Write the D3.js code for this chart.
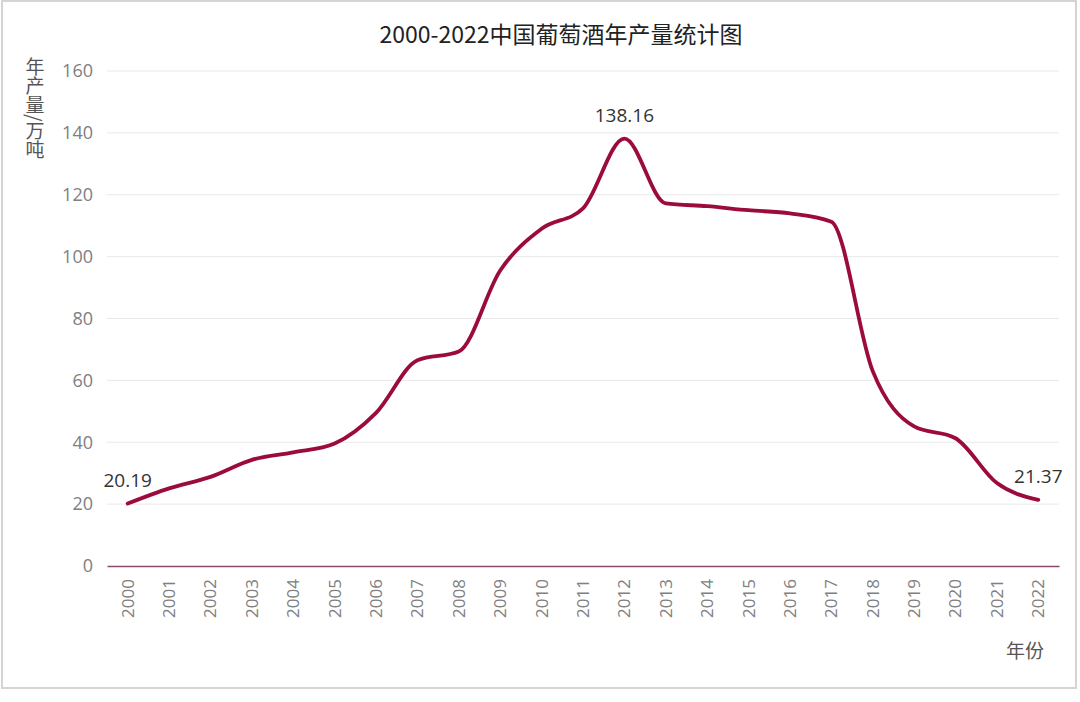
<!DOCTYPE html>
<html>
<head>
<meta charset="utf-8">
<script src="https://cdn.jsdelivr.net/npm/d3@7"></script>
<style>
  body { margin: 0; background: #fff; }
  svg { display: block; font-family: "Noto Sans CJK SC", "Noto Sans", sans-serif; }
</style>
</head>
<body>
<div id="chart"></div>
<script>
// year labels
var years = ["2000","2001","2002","2003","2004","2005","2006","2007","2008","2009","2010",
             "2011","2012","2013","2014","2015","2016","2017","2018","2019","2020","2021","2022"];
// annual wine output, 10k tons
var output = [20.19, 25.1, 28.8, 34.3, 36.7, 39.6, 49.5, 66.5, 69.3, 95.5, 109.0,
              115.6, 138.16, 117.2, 116.3, 115.0, 114.0, 111.3, 63.0, 45.1, 41.3, 26.8, 21.37];
var yTicks = [0, 20, 40, 60, 80, 100, 120, 140, 160];
var labelled = ["2000", "2012", "2022"];

var W = 1080, H = 702;
var svg = d3.select("#chart").append("svg")
    .attr("width", W)
    .attr("height", H);

// frame around picture
svg.append("rect")
    .attr("x", 2).attr("y", 1)
    .attr("width", 1074).attr("height", 687)
    .attr("fill", "none")
    .attr("stroke", "#d4d4d4")
    .attr("stroke-width", 2);

var plotL = 107, plotR = 1059, plotT = 71, plotB = 566;

var x = d3.scaleBand().domain(years).range([plotL, plotR]);
var y = d3.scaleLinear().domain([0, 160]).range([plotB, plotT]);

// gridlines
svg.append("g").selectAll("line")
    .data(yTicks.slice(1))
    .enter().append("line")
    .attr("x1", plotL).attr("x2", plotR)
    .attr("y1", function(d){ return y(d) })
    .attr("y2", function(d){ return y(d) })
    .attr("stroke", "#e9e9e9")
    .attr("stroke-width", 1);

// y axis labels
var yAxis = svg.append("g")
    .attr("transform", "translate(" + plotL + ",0)")
    .call(d3.axisLeft(y).tickValues(yTicks).tickSize(0).tickPadding(14));
yAxis.select(".domain").remove();
yAxis.selectAll("text")
    .attr("fill", "#808080")
    .style("font-size", "18px")
    .style("font-family", "'Open Sans', 'Noto Sans', sans-serif");

// x axis
var xAxis = svg.append("g")
    .attr("transform", "translate(0," + plotB + ")")
    .call(d3.axisBottom(x).tickSize(0).tickPadding(10));
xAxis.select(".domain")
    .attr("stroke", "#8a4a76")
    .attr("stroke-width", 1.5);
xAxis.selectAll("text")
    .attr("fill", "#808080")
    .style("font-size", "17px")
    .style("font-family", "'Open Sans', 'Noto Sans', sans-serif")
    .attr("text-anchor", "end")
    .attr("transform", "rotate(-90)")
    .attr("x", -13)
    .attr("y", 0)
    .attr("dy", "0.35em");

// line
var line = d3.line()
    .x(function(d, i){ return x(years[i]) + x.bandwidth() / 2 })
    .y(function(d){ return y(d) })
    .curve(d3.curveMonotoneX);

svg.append("path")
    .datum(output)
    .attr("d", line)
    .attr("fill", "none")
    .attr("stroke", "#9b0b3e")
    .attr("stroke-width", 3.8)
    .attr("stroke-linecap", "round")
    .attr("stroke-linejoin", "round");

// value labels
svg.append("g").selectAll("text")
    .data(years.filter(function(d){ return labelled.indexOf(d) >= 0 }))
    .enter().append("text")
    .attr("x", function(d){ return x(d) + x.bandwidth() / 2 })
    .attr("y", function(d){ return y(output[years.indexOf(d)]) - 17 })
    .attr("text-anchor", "middle")
    .attr("fill", "#333")
    .style("font-size", "19px")
    .style("font-family", "'Open Sans', 'Noto Sans', sans-serif")
    .text(function(d){ return output[years.indexOf(d)].toFixed(2) });

// title
svg.append("text")
    .attr("x", 561).attr("y", 43)
    .attr("text-anchor", "middle")
    .attr("fill", "#222")
    .style("font-size", "23px")
    .text("2000-2022中国葡萄酒年产量统计图");

// y axis name
svg.append("text")
    .attr("x", 35).attr("y", 57)
    .attr("fill", "#555")
    .style("font-size", "19px")
    .style("writing-mode", "vertical-rl")
    .text("年产量/万吨");

// x axis name
svg.append("text")
    .attr("x", 1025).attr("y", 658)
    .attr("text-anchor", "middle")
    .attr("fill", "#555")
    .style("font-size", "19px")
    .text("年份");
</script>
</body>
</html>
